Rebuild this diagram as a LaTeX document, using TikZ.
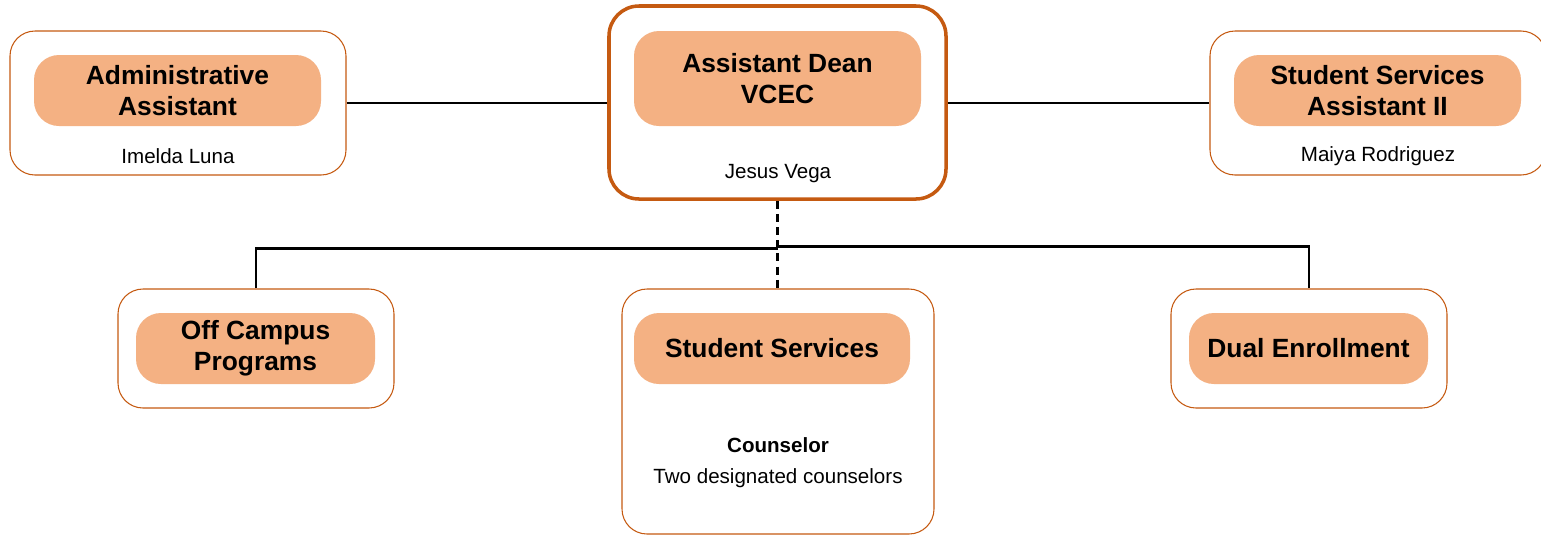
\documentclass[tikz,border=0pt]{standalone}
\usepackage{fontspec}
\setmainfont{Liberation Sans}
\usepackage{tikz}
\usetikzlibrary{shapes}
\usetikzlibrary{arrows}
\usetikzlibrary{calc}
\definecolor{brique}{RGB}{197,90,17}
\definecolor{saumon}{RGB}{244,177,131}
\tikzstyle{cadre}=[
        draw=brique,
        line width=0.6pt,
        rectangle,
        rounded corners=0.5cm,
        fill=white
]
\tikzstyle{cadrechef}=[
        draw=brique,
        line width=2pt,
        rectangle,
        rounded corners=0.6cm,
        fill=white
]
\tikzstyle{titre}=[rectangle,fill=saumon,rounded corners=0.5cm,align=center,
font=\fontsize{15}{17.6}\selectfont\bfseries,minimum height=1.42cm]
\tikzstyle{nom}=[align=center,font=\fontsize{11.7}{14}\selectfont,inner sep=0pt]
\tikzstyle{lien}=[line width=1.5pt,black]
\tikzstyle{pointille}=[line width=1.5pt,black,dash pattern=on 4.5pt off 3pt]

\begin{document}
\begin{tikzpicture}
\useasboundingbox (0,0) rectangle (30.82,-10.70);
\node[cadre,minimum width=6.72cm,minimum height=2.88cm] (a) at (3.56,-2.06) {};
\node[cadrechef,minimum width=6.74cm,minimum height=3.86cm] (b) at (15.55,-2.05) {};
\node[cadre,minimum width=6.72cm,minimum height=2.88cm] (c) at (27.56,-2.06) {};
\node[cadre,minimum width=5.52cm,minimum height=2.38cm] (d) at (5.12,-6.97) {};
\node[cadre,minimum width=6.24cm,minimum height=4.90cm] (e) at (15.56,-8.23) {};
\node[cadre,minimum width=5.52cm,minimum height=2.38cm] (f) at (26.18,-6.97) {};
%Titres
\node[titre,minimum width=5.74cm] (ta) at (3.55,-1.81) {Administrative\\Assistant};
\node[titre,minimum width=5.74cm,minimum height=1.90cm] (tb) at (15.55,-1.57) {Assistant Dean\\VCEC};
\node[titre,minimum width=5.74cm] (tc) at (27.55,-1.81) {Student Services\\Assistant II};
\node[titre,minimum width=4.78cm] (td) at (5.11,-6.97) {Off Campus\\Programs};
\node[titre,minimum width=5.52cm] (te) at (15.44,-6.97) {Student Services};
\node[titre,minimum width=4.78cm] (tf) at (26.17,-6.97) {Dual Enrollment};
%Noms
\node[nom] (na) at (3.56,-3.12) {Imelda Luna};
\node[nom] (nb) at (15.56,-3.48) {Jesus Vega};
\node[nom] (nc) at (27.56,-3.12) {Maiya Rodriguez};
\node[nom] (ne) at (15.56,-9.25) {\textbf{Counselor}\\[4pt]Two designated counselors};
%Placement des liens
\coordinate (j1) at (15.56,-4.97);
\coordinate (j2) at (15.56,-4.93);
\draw[lien] (a.east) -- (b.west |- a.east);
\draw[lien] (b.east |- c.west) -- (c.west);
\draw[pointille] (b.south) -- (b.south |- e.north);
\draw[lien] (d.north) |- (j1);
\draw[lien] (j2) -| (f.north);
\end{tikzpicture}
\end{document}
